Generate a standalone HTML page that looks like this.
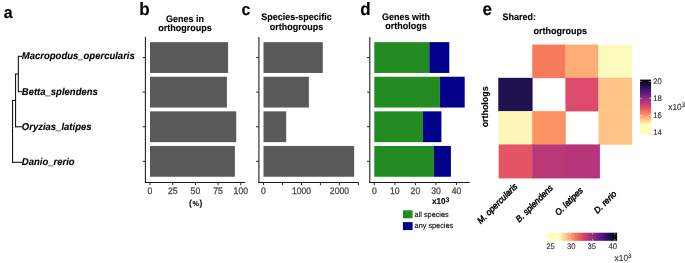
<!DOCTYPE html>
<html><head><meta charset="utf-8"><style>
html,body{margin:0;padding:0;background:#fff;}
svg{display:block;will-change:transform;}
text{font-family:"Liberation Sans", sans-serif;stroke-width:0.12px;text-rendering:geometricPrecision;}
</style></head><body>
<svg width="685" height="263" viewBox="0 0 685 263" font-family='"Liberation Sans", sans-serif'>
<defs><linearGradient id="gv" x1="0" y1="0" x2="0" y2="1"><stop offset="0.0000" stop-color="#000004"/><stop offset="0.0827" stop-color="#140e36"/><stop offset="0.1654" stop-color="#3b0f70"/><stop offset="0.2481" stop-color="#641a80"/><stop offset="0.3308" stop-color="#8c2981"/><stop offset="0.4135" stop-color="#b73779"/><stop offset="0.4962" stop-color="#de4968"/><stop offset="0.5789" stop-color="#f7705c"/><stop offset="0.6616" stop-color="#fe9f6d"/><stop offset="0.7443" stop-color="#fecf92"/><stop offset="0.8270" stop-color="#fcfdbf"/><stop offset="1" stop-color="#fcfdbf"/></linearGradient><linearGradient id="gh" x1="1" y1="0" x2="0" y2="0"><stop offset="0.0000" stop-color="#000004"/><stop offset="0.0829" stop-color="#140e36"/><stop offset="0.1658" stop-color="#3b0f70"/><stop offset="0.2486" stop-color="#641a80"/><stop offset="0.3315" stop-color="#8c2981"/><stop offset="0.4144" stop-color="#b73779"/><stop offset="0.4973" stop-color="#de4968"/><stop offset="0.5802" stop-color="#f7705c"/><stop offset="0.6631" stop-color="#fe9f6d"/><stop offset="0.7459" stop-color="#fecf92"/><stop offset="0.8288" stop-color="#fcfdbf"/><stop offset="1" stop-color="#fcfdbf"/></linearGradient></defs>
<text transform="translate(3.7,18.2) scale(1,1.05)" font-size="16" font-weight="bold" stroke="#000">a</text>
<text transform="translate(139.2,14.7) scale(1,1.05)" font-size="17" font-weight="bold" stroke="#000">b</text>
<text transform="translate(241.6,14.5) scale(1,1.05)" font-size="16" font-weight="bold" stroke="#000">c</text>
<text transform="translate(360.2,14.8) scale(1,1.05)" font-size="17" font-weight="bold" stroke="#000">d</text>
<text transform="translate(482.6,14.6) scale(1,1.05)" font-size="17" font-weight="bold" stroke="#000">e</text>
<line x1="18.3" y1="56.3" x2="22.0" y2="56.3" stroke="#000" stroke-width="1"/>
<line x1="18.3" y1="91.7" x2="22.0" y2="91.7" stroke="#000" stroke-width="1"/>
<line x1="15.6" y1="126.8" x2="22.0" y2="126.8" stroke="#000" stroke-width="1"/>
<line x1="12.6" y1="162.3" x2="22.0" y2="162.3" stroke="#000" stroke-width="1"/>
<line x1="18.3" y1="55.8" x2="18.3" y2="92.2" stroke="#000" stroke-width="1"/>
<line x1="15.6" y1="73.5" x2="15.6" y2="127.3" stroke="#000" stroke-width="1"/>
<line x1="12.6" y1="99.9" x2="12.6" y2="162.8" stroke="#000" stroke-width="1"/>
<line x1="15.6" y1="74.0" x2="18.3" y2="74.0" stroke="#000" stroke-width="1"/>
<line x1="12.6" y1="100.4" x2="15.6" y2="100.4" stroke="#000" stroke-width="1"/>
<line x1="11.799999999999999" y1="131.35000000000002" x2="12.6" y2="131.35000000000002" stroke="#000" stroke-width="1"/>
<text transform="translate(21.8,59.30) scale(1,1.05)" font-size="9.5" font-weight="bold" font-style="italic" stroke="#000">Macropodus_opercularis</text>
<text transform="translate(21.8,94.70) scale(1,1.05)" font-size="9.5" font-weight="bold" font-style="italic" stroke="#000">Betta_splendens</text>
<text transform="translate(21.8,129.80) scale(1,1.05)" font-size="9.5" font-weight="bold" font-style="italic" stroke="#000">Oryzias_latipes</text>
<text transform="translate(21.8,165.30) scale(1,1.05)" font-size="9.5" font-weight="bold" font-style="italic" stroke="#000">Danio_rerio</text>
<text transform="translate(185.0,21.7) scale(1,1.05)" font-size="9" font-weight="bold" text-anchor="middle" stroke="#000">Genes in</text>
<text transform="translate(185.0,31.0) scale(1,1.05)" font-size="9" font-weight="bold" text-anchor="middle" stroke="#000">orthogroups</text>
<rect x="150.00" y="42.15" width="78.07" height="30.80" fill="#595959"/>
<rect x="150.00" y="76.75" width="76.89" height="30.80" fill="#595959"/>
<rect x="150.00" y="111.35" width="86.24" height="30.80" fill="#595959"/>
<rect x="150.00" y="145.95" width="84.88" height="30.80" fill="#595959"/>
<line x1="145.4" y1="37.1" x2="145.4" y2="183" stroke="#1a1a1a" stroke-width="1.07"/>
<line x1="144.9" y1="182.5" x2="245.4" y2="182.5" stroke="#1a1a1a" stroke-width="1.07"/>
<line x1="142.70000000000002" y1="57.55" x2="145.4" y2="57.55" stroke="#333333" stroke-width="1.07"/>
<line x1="142.70000000000002" y1="92.15" x2="145.4" y2="92.15" stroke="#333333" stroke-width="1.07"/>
<line x1="142.70000000000002" y1="126.75" x2="145.4" y2="126.75" stroke="#333333" stroke-width="1.07"/>
<line x1="142.70000000000002" y1="161.35" x2="145.4" y2="161.35" stroke="#333333" stroke-width="1.07"/>
<line x1="150.00" y1="182.5" x2="150.00" y2="185.2" stroke="#333333" stroke-width="1.07"/>
<line x1="172.69" y1="182.5" x2="172.69" y2="185.2" stroke="#333333" stroke-width="1.07"/>
<line x1="195.39" y1="182.5" x2="195.39" y2="185.2" stroke="#333333" stroke-width="1.07"/>
<line x1="218.09" y1="182.5" x2="218.09" y2="185.2" stroke="#333333" stroke-width="1.07"/>
<line x1="240.78" y1="182.5" x2="240.78" y2="185.2" stroke="#333333" stroke-width="1.07"/>
<text transform="translate(150.00,193.6) scale(1,1.1)" font-size="8.6" fill="#4d4d4d" text-anchor="middle" style="stroke-width:0.3px" stroke="#4d4d4d">0</text>
<text transform="translate(172.69,193.6) scale(1,1.1)" font-size="8.6" fill="#4d4d4d" text-anchor="middle" style="stroke-width:0.3px" stroke="#4d4d4d">25</text>
<text transform="translate(195.39,193.6) scale(1,1.1)" font-size="8.6" fill="#4d4d4d" text-anchor="middle" style="stroke-width:0.3px" stroke="#4d4d4d">50</text>
<text transform="translate(218.09,193.6) scale(1,1.1)" font-size="8.6" fill="#4d4d4d" text-anchor="middle" style="stroke-width:0.3px" stroke="#4d4d4d">75</text>
<text transform="translate(240.78,193.6) scale(1,1.1)" font-size="8.6" fill="#4d4d4d" text-anchor="middle" style="stroke-width:0.3px" stroke="#4d4d4d">100</text>
<text transform="translate(195.6,205.6) scale(1,1.05)" font-size="8.4" font-weight="bold" text-anchor="middle" fill="#000" style="stroke-width:0.05px" stroke="#000">(<tspan font-size="7.2" dx="0.7">%</tspan><tspan dx="0.7">)</tspan></text>
<text transform="translate(296.5,20.1) scale(1,1.05)" font-size="9" font-weight="bold" text-anchor="middle" stroke="#000">Species-specific</text>
<text transform="translate(296.5,29.8) scale(1,1.05)" font-size="9" font-weight="bold" text-anchor="middle" stroke="#000">orthogroups</text>
<rect x="263.50" y="42.15" width="59.29" height="30.80" fill="#595959"/>
<rect x="263.50" y="76.75" width="45.36" height="30.80" fill="#595959"/>
<rect x="263.50" y="111.35" width="22.70" height="30.80" fill="#595959"/>
<rect x="263.50" y="145.95" width="90.65" height="30.80" fill="#595959"/>
<line x1="258.9" y1="37.1" x2="258.9" y2="183" stroke="#1a1a1a" stroke-width="1.07"/>
<line x1="258.4" y1="182.5" x2="358.6" y2="182.5" stroke="#1a1a1a" stroke-width="1.07"/>
<line x1="256.2" y1="57.55" x2="258.9" y2="57.55" stroke="#333333" stroke-width="1.07"/>
<line x1="256.2" y1="92.15" x2="258.9" y2="92.15" stroke="#333333" stroke-width="1.07"/>
<line x1="256.2" y1="126.75" x2="258.9" y2="126.75" stroke="#333333" stroke-width="1.07"/>
<line x1="256.2" y1="161.35" x2="258.9" y2="161.35" stroke="#333333" stroke-width="1.07"/>
<line x1="263.50" y1="182.5" x2="263.50" y2="185.2" stroke="#333333" stroke-width="1.07"/>
<line x1="282.48" y1="182.5" x2="282.48" y2="185.2" stroke="#333333" stroke-width="1.07"/>
<line x1="301.46" y1="182.5" x2="301.46" y2="185.2" stroke="#333333" stroke-width="1.07"/>
<line x1="320.44" y1="182.5" x2="320.44" y2="185.2" stroke="#333333" stroke-width="1.07"/>
<line x1="339.42" y1="182.5" x2="339.42" y2="185.2" stroke="#333333" stroke-width="1.07"/>
<line x1="358.40" y1="182.5" x2="358.40" y2="185.2" stroke="#333333" stroke-width="1.07"/>
<text transform="translate(263.50,193.6) scale(1,1.1)" font-size="8.6" fill="#4d4d4d" text-anchor="middle" style="stroke-width:0.3px" stroke="#4d4d4d">0</text>
<text transform="translate(301.46,193.6) scale(1,1.1)" font-size="8.6" fill="#4d4d4d" text-anchor="middle" style="stroke-width:0.3px" stroke="#4d4d4d">1000</text>
<text transform="translate(339.42,193.6) scale(1,1.1)" font-size="8.6" fill="#4d4d4d" text-anchor="middle" style="stroke-width:0.3px" stroke="#4d4d4d">2000</text>
<text transform="translate(406.1,19.6) scale(1,1.05)" font-size="9" font-weight="bold" text-anchor="middle" stroke="#000">Genes with</text>
<text transform="translate(406.1,29.0) scale(1,1.05)" font-size="9" font-weight="bold" text-anchor="middle" stroke="#000">orthologs</text>
<rect x="374.30" y="42.15" width="55.00" height="30.80" fill="#228b22"/>
<rect x="429.30" y="42.15" width="20.00" height="30.80" fill="#00008b"/>
<rect x="374.30" y="76.75" width="65.60" height="30.80" fill="#228b22"/>
<rect x="439.90" y="76.75" width="24.80" height="30.80" fill="#00008b"/>
<rect x="374.30" y="111.35" width="48.60" height="30.80" fill="#228b22"/>
<rect x="422.90" y="111.35" width="18.50" height="30.80" fill="#00008b"/>
<rect x="374.30" y="145.95" width="59.70" height="30.80" fill="#228b22"/>
<rect x="434.00" y="145.95" width="16.90" height="30.80" fill="#00008b"/>
<line x1="369.8" y1="37.1" x2="369.8" y2="183" stroke="#1a1a1a" stroke-width="1.07"/>
<line x1="369.3" y1="182.5" x2="469.7" y2="182.5" stroke="#1a1a1a" stroke-width="1.07"/>
<line x1="367.1" y1="57.55" x2="369.8" y2="57.55" stroke="#333333" stroke-width="1.07"/>
<line x1="367.1" y1="92.15" x2="369.8" y2="92.15" stroke="#333333" stroke-width="1.07"/>
<line x1="367.1" y1="126.75" x2="369.8" y2="126.75" stroke="#333333" stroke-width="1.07"/>
<line x1="367.1" y1="161.35" x2="369.8" y2="161.35" stroke="#333333" stroke-width="1.07"/>
<line x1="374.30" y1="182.5" x2="374.30" y2="185.2" stroke="#333333" stroke-width="1.07"/>
<line x1="394.85" y1="182.5" x2="394.85" y2="185.2" stroke="#333333" stroke-width="1.07"/>
<line x1="415.40" y1="182.5" x2="415.40" y2="185.2" stroke="#333333" stroke-width="1.07"/>
<line x1="435.95" y1="182.5" x2="435.95" y2="185.2" stroke="#333333" stroke-width="1.07"/>
<line x1="456.50" y1="182.5" x2="456.50" y2="185.2" stroke="#333333" stroke-width="1.07"/>
<text transform="translate(374.30,193.6) scale(1,1.1)" font-size="8.6" fill="#4d4d4d" text-anchor="middle" style="stroke-width:0.3px" stroke="#4d4d4d">0</text>
<text transform="translate(394.85,193.6) scale(1,1.1)" font-size="8.6" fill="#4d4d4d" text-anchor="middle" style="stroke-width:0.3px" stroke="#4d4d4d">10</text>
<text transform="translate(415.40,193.6) scale(1,1.1)" font-size="8.6" fill="#4d4d4d" text-anchor="middle" style="stroke-width:0.3px" stroke="#4d4d4d">20</text>
<text transform="translate(435.95,193.6) scale(1,1.1)" font-size="8.6" fill="#4d4d4d" text-anchor="middle" style="stroke-width:0.3px" stroke="#4d4d4d">30</text>
<text transform="translate(456.50,193.6) scale(1,1.1)" font-size="8.6" fill="#4d4d4d" text-anchor="middle" style="stroke-width:0.3px" stroke="#4d4d4d">40</text>
<text transform="translate(432.0,204.3) scale(1,1.05)" font-size="8.2" font-weight="bold" stroke="#000">x10<tspan font-size="6.4" dy="-2.6">3</tspan></text>
<rect x="402.9" y="210.3" width="9.7" height="8" fill="#228b22"/>
<rect x="402.9" y="222.1" width="9.7" height="8" fill="#00008b"/>
<text transform="translate(414.6,216.9) scale(1,1.05)" font-size="7.3" style="stroke-width:0.1px" stroke="#000">all species</text>
<text transform="translate(414.6,228.4) scale(1,1.05)" font-size="7.3" style="stroke-width:0.1px" stroke="#000">any species</text>
<text transform="translate(502.6,20.0) scale(1,1.05)" font-size="9" font-weight="bold" stroke="#000">Shared:</text>
<text transform="translate(560.3,33.5) scale(1,1.05)" font-size="9" font-weight="bold" text-anchor="middle" stroke="#000">orthogroups</text>
<rect x="532.4" y="44.8" width="33.20" height="33.20" fill="#f87a5c" stroke="#f87a5c" stroke-width="0.3"/>
<rect x="565.6" y="44.8" width="32.90" height="33.20" fill="#fdae78" stroke="#fdae78" stroke-width="0.3"/>
<rect x="598.5" y="44.8" width="33.50" height="33.20" fill="#fcfbbd" stroke="#fcfbbd" stroke-width="0.3"/>
<rect x="498.4" y="78.0" width="34.00" height="33.20" fill="#221150" stroke="#221150" stroke-width="0.3"/>
<rect x="565.6" y="78.0" width="32.90" height="33.20" fill="#dc4a6c" stroke="#dc4a6c" stroke-width="0.3"/>
<rect x="598.5" y="78.0" width="33.50" height="33.20" fill="#fec488" stroke="#fec488" stroke-width="0.3"/>
<rect x="498.4" y="111.2" width="34.00" height="33.40" fill="#fcf7b9" stroke="#fcf7b9" stroke-width="0.3"/>
<rect x="532.4" y="111.2" width="33.20" height="33.40" fill="#fc9162" stroke="#fc9162" stroke-width="0.3"/>
<rect x="598.5" y="111.2" width="33.50" height="33.40" fill="#fec488" stroke="#fec488" stroke-width="0.3"/>
<rect x="498.9" y="144.6" width="33.30" height="33.60" fill="#e65565" stroke="#e65565" stroke-width="0.3"/>
<rect x="532.2" y="144.6" width="33.80" height="33.60" fill="#b93878" stroke="#b93878" stroke-width="0.3"/>
<rect x="566.0" y="144.6" width="33.90" height="33.60" fill="#b7367b" stroke="#b7367b" stroke-width="0.3"/>
<text transform="translate(487.5,106.9) rotate(-90) scale(1,1.05)" font-size="8.9" font-weight="bold" text-anchor="middle" stroke="#000">orthologs</text>
<text transform="translate(518.00,187.00) rotate(-45) scale(1,1.05)" font-size="8.4" font-style="italic" text-anchor="end" style="stroke-width:0.45px" stroke="#000">M. opercularis</text>
<text transform="translate(553.50,188.50) rotate(-45) scale(1,1.05)" font-size="8.4" font-style="italic" text-anchor="end" style="stroke-width:0.45px" stroke="#000">B. splendens</text>
<text transform="translate(583.50,191.00) rotate(-45) scale(1,1.05)" font-size="8.4" font-style="italic" text-anchor="end" style="stroke-width:0.45px" stroke="#000">O. latipes</text>
<text transform="translate(617.00,194.50) rotate(-45) scale(1,1.05)" font-size="8.4" font-style="italic" text-anchor="end" style="stroke-width:0.45px" stroke="#000">D. rerio</text>
<rect x="640" y="79.6" width="11.1" height="54.9" fill="url(#gv)"/>
<line x1="640" y1="81.4" x2="642.2" y2="81.4" stroke="#fff" stroke-width="0.6" stroke-opacity="0.8"/>
<line x1="648.9" y1="81.4" x2="651.1" y2="81.4" stroke="#fff" stroke-width="0.6" stroke-opacity="0.8"/>
<line x1="640" y1="98.3" x2="642.2" y2="98.3" stroke="#fff" stroke-width="0.6" stroke-opacity="0.8"/>
<line x1="648.9" y1="98.3" x2="651.1" y2="98.3" stroke="#fff" stroke-width="0.6" stroke-opacity="0.8"/>
<line x1="640" y1="115.5" x2="642.2" y2="115.5" stroke="#fff" stroke-width="0.6" stroke-opacity="0.8"/>
<line x1="648.9" y1="115.5" x2="651.1" y2="115.5" stroke="#fff" stroke-width="0.6" stroke-opacity="0.8"/>
<line x1="640" y1="132.5" x2="642.2" y2="132.5" stroke="#fff" stroke-width="0.6" stroke-opacity="0.8"/>
<line x1="648.9" y1="132.5" x2="651.1" y2="132.5" stroke="#fff" stroke-width="0.6" stroke-opacity="0.8"/>
<text transform="translate(653.2,84.2) scale(1,1.05)" font-size="7.7" fill="#333" stroke="#333">20</text>
<text transform="translate(653.2,100.8) scale(1,1.05)" font-size="7.7" fill="#333" stroke="#333">18</text>
<text transform="translate(653.2,117.7) scale(1,1.05)" font-size="7.7" fill="#333" stroke="#333">16</text>
<text transform="translate(653.2,134.8) scale(1,1.05)" font-size="7.7" fill="#333" stroke="#333">14</text>
<text transform="translate(668.2,109.8) scale(1,1.05)" font-size="8.4" fill="#333" stroke="#333">x10<tspan font-size="6.3" dy="-2.4">3</tspan></text>
<rect x="547" y="232.7" width="70.1" height="8.1" fill="url(#gh)"/>
<line x1="548.2" y1="232.7" x2="548.2" y2="234.6" stroke="#fff" stroke-width="0.6" stroke-opacity="0.8"/>
<line x1="548.2" y1="238.9" x2="548.2" y2="240.8" stroke="#fff" stroke-width="0.6" stroke-opacity="0.8"/>
<line x1="570.4" y1="232.7" x2="570.4" y2="234.6" stroke="#fff" stroke-width="0.6" stroke-opacity="0.8"/>
<line x1="570.4" y1="238.9" x2="570.4" y2="240.8" stroke="#fff" stroke-width="0.6" stroke-opacity="0.8"/>
<line x1="592.6" y1="232.7" x2="592.6" y2="234.6" stroke="#fff" stroke-width="0.6" stroke-opacity="0.8"/>
<line x1="592.6" y1="238.9" x2="592.6" y2="240.8" stroke="#fff" stroke-width="0.6" stroke-opacity="0.8"/>
<line x1="614.8" y1="232.7" x2="614.8" y2="234.6" stroke="#fff" stroke-width="0.6" stroke-opacity="0.8"/>
<line x1="614.8" y1="238.9" x2="614.8" y2="240.8" stroke="#fff" stroke-width="0.6" stroke-opacity="0.8"/>
<text transform="translate(550.5,249.0) scale(1,1.05)" font-size="7.7" fill="#333" text-anchor="middle" stroke="#333">25</text>
<text transform="translate(571.3,249.0) scale(1,1.05)" font-size="7.7" fill="#333" text-anchor="middle" stroke="#333">30</text>
<text transform="translate(591.8,249.0) scale(1,1.05)" font-size="7.7" fill="#333" text-anchor="middle" stroke="#333">35</text>
<text transform="translate(612.8,249.0) scale(1,1.05)" font-size="7.7" fill="#333" text-anchor="middle" stroke="#333">40</text>
<text transform="translate(614.6,260.7) scale(1,1.05)" font-size="8.4" fill="#333" stroke="#333">x10<tspan font-size="6.3" dy="-2.4">3</tspan></text>
</svg>
</body></html>
